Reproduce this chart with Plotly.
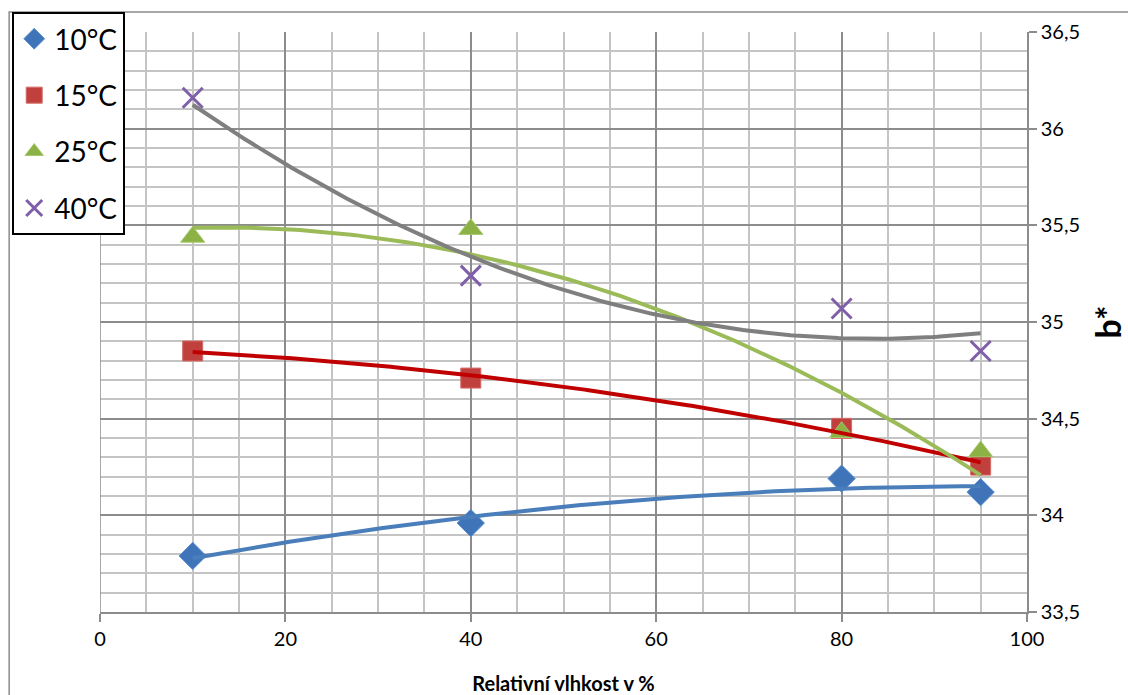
import numpy as np
import plotly.graph_objects as go

# Relative humidity (%) and measured b* values per storage temperature
humidity = [10, 40, 80, 95]
b_10 = [33.79, 33.96, 34.19, 34.12]
b_15 = [34.85, 34.71, 34.45, 34.26]
b_25 = [35.44, 35.48, 34.43, 34.33]
b_40 = [36.16, 35.24, 35.07, 34.85]

series_names = ["10°C", "15°C", "25°C", "40°C"]
series_values = [b_10, b_15, b_25, b_40]

x_ticks = [0, 20, 40, 60, 80, 100]
y_ticks = [33.5, 34, 34.5, 35, 35.5, 36, 36.5]

FONT = "Lato, 'Open Sans', sans-serif"

marker_styles = [
    dict(symbol="diamond", size=21, color="#3f74b9", line=dict(color="#5b8fd0", width=1)),
    dict(symbol="square", size=20, color="#c0403d", line=dict(color="#d46a67", width=1)),
    dict(symbol="triangle-up", size=21, color="#8cb245", line=dict(color="#a6c86a", width=1)),
    dict(symbol="x-thin-open", size=20, color="#7f5fa8", line=dict(color="#7f5fa8", width=3)),
]
trend_colors = ["#4a7ebb", "#c00000", "#9bbb59", "#7f7f7f"]

fig = go.Figure()

# measured points
for i, (name, vals) in enumerate(zip(series_names, series_values)):
    fig.add_trace(go.Scatter(
        x=humidity, y=vals, mode="markers", name=name,
        marker=marker_styles[i], legendgroup=f"g{i}",
        cliponaxis=False,
    ))

# second-order polynomial trendlines
xs = np.linspace(min(humidity), max(humidity), 200)
for i, vals in enumerate(series_values):
    coef = np.polyfit(humidity, vals, 2)
    fig.add_trace(go.Scatter(
        x=xs, y=np.polyval(coef, xs), mode="lines",
        line=dict(color=trend_colors[i], width=4),
        showlegend=False, hoverinfo="skip",
    ))

major_grid = "#8c8c8c"
minor_grid = "#c4c4c4"

fig.update_layout(
    width=1128, height=695,
    margin=dict(l=98, r=101, t=30, b=83),
    paper_bgcolor="white", plot_bgcolor="white",
    separators=", ",
    font=dict(family=FONT, size=20, color="black"),
    showlegend=True,
    legend=dict(
        x=-0.0947, y=1.0344, xanchor="left", yanchor="top",
        bgcolor="white", bordercolor="black", borderwidth=2,
        font=dict(family=FONT, size=28, color="black"),
        tracegroupgap=17, itemwidth=30,
    ),
    xaxis=dict(
        range=[0, 100], tickvals=x_ticks, automargin=False,
        showgrid=True, gridcolor=major_grid, gridwidth=1.5,
        minor=dict(dtick=5, showgrid=True, gridcolor=minor_grid, gridwidth=1.5),
        showline=True, linecolor=major_grid, linewidth=1.5,
        ticks="outside", ticklen=8, tickcolor=major_grid, tickwidth=1.5,
        zeroline=False,
        tickfont=dict(family=FONT, size=20),
        title=dict(text="<b>Relativní vlhkost v %</b>", standoff=30,
                   font=dict(family=FONT, size=20)),
    ),
    yaxis=dict(
        range=[33.5, 36.5], tickvals=y_ticks, side="right", automargin=False,
        showgrid=True, gridcolor=major_grid, gridwidth=1.5,
        minor=dict(dtick=0.1, showgrid=True, gridcolor=minor_grid, gridwidth=1.5),
        showline=True, linecolor=major_grid, linewidth=1.5, mirror=False,
        ticks="outside", ticklen=8, tickcolor=major_grid, tickwidth=1.5,
        zeroline=False,
        tickfont=dict(family=FONT, size=20),
        title=dict(text="<b>b*</b>", standoff=18,
                   font=dict(family=FONT, size=34)),
    ),
    shapes=[
        # left frame of the plot area
        dict(type="line", xref="x", yref="paper", x0=0, x1=0, y0=0, y1=1,
             line=dict(color=major_grid, width=1.5)),
        # outer chart border
        dict(type="rect", xref="paper", yref="paper",
             x0=-0.098, x1=1.12, y0=-0.2, y1=1.0344,
             line=dict(color="#8c8c8c", width=1.5), layer="below"),
    ],
)

fig.write_html("out.html")
